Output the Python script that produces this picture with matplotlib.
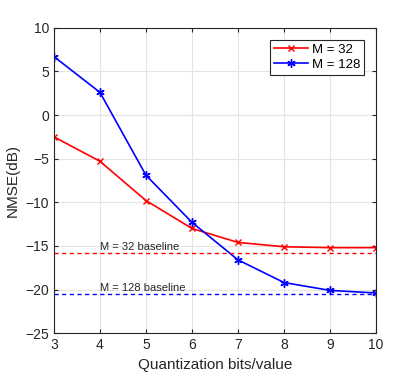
import matplotlib
matplotlib.use('Agg')
import matplotlib.pyplot as plt

plt.rcParams['font.family'] = ['Liberation Sans', 'DejaVu Sans']

bits = [3, 4, 5, 6, 7, 8, 9, 10]
nmse_m32 = [-2.5, -5.3, -9.8, -13.0, -14.6, -15.1, -15.2, -15.2]
nmse_m128 = [6.7, 2.6, -6.9, -12.3, -16.6, -19.2, -20.1, -20.4]
base_m32 = -15.8
base_m128 = -20.5

fig = plt.figure(figsize=(4.15, 3.76), dpi=100)
ax = fig.add_axes([0.130, 0.114, 0.776, 0.812])

ax.plot(bits, nmse_m32, color='#ff0000', marker='x', markersize=5, lw=1.2, label='M = 32')
ax.plot(bits, nmse_m128, color='#0000ff', marker=(6, 2, 0), markersize=6, lw=1.2, label='M = 128')
ax.axhline(base_m32, color='#ff0000', ls='--', lw=1.0, dashes=(3, 2.5))
ax.axhline(base_m128, color='#0000ff', ls='--', lw=1.0, dashes=(3, 2.5))
ax.text(4, base_m32 + 0.3, 'M = 32 baseline', fontsize=8, color='#262626')
ax.text(4, base_m128 + 0.3, 'M = 128 baseline', fontsize=8, color='#262626')

ax.set_xlim(3, 10)
ax.set_ylim(-25, 10)
ax.set_xticks(bits)
ax.set_yticks(range(-25, 11, 5))
ax.grid(True, color='#e3e3e3', lw=0.8)
ax.set_axisbelow(True)
ax.tick_params(direction='in', top=True, right=True, labelsize=10, colors='#262626', length=3)
for s in ax.spines.values():
    s.set_color('#262626')
    s.set_linewidth(0.8)
ax.set_xlabel('Quantization bits/value', fontsize=11, color='#262626')
ax.set_ylabel('NMSE(dB)', fontsize=11, color='#262626')

leg = ax.legend(loc='upper right', fontsize=9.5, handlelength=2.6, fancybox=False,
                edgecolor='#262626', framealpha=1, borderaxespad=0.9, labelspacing=0.2,
                handletextpad=0.3, borderpad=0.3)
leg.get_frame().set_linewidth(0.8)

fig.savefig('out.png', dpi=100)
